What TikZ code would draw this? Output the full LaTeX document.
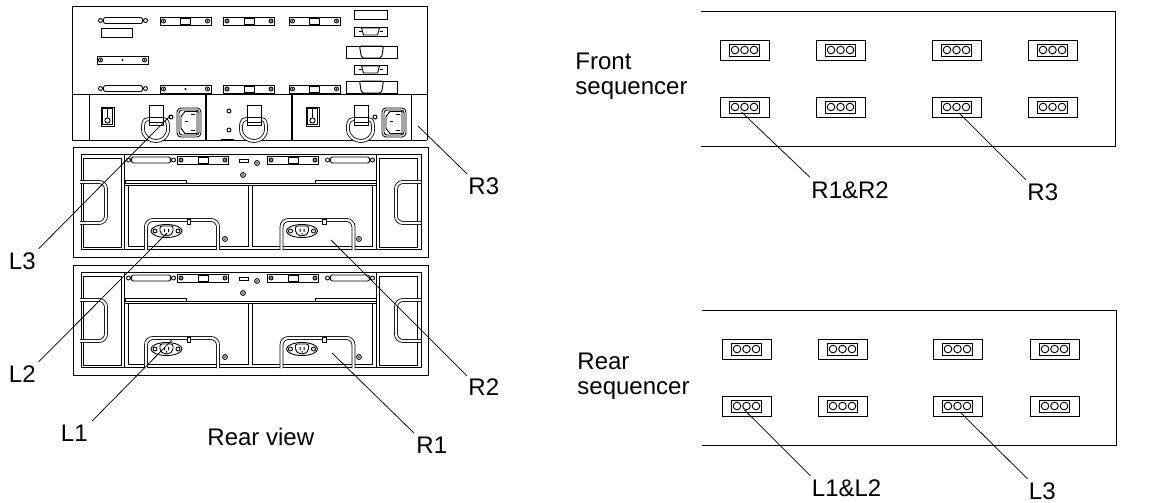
\documentclass[tikz,border=0pt]{standalone}
\usepackage{fontspec}
\setmainfont{Liberation Sans}
\usetikzlibrary{calc}

\begin{document}
\begin{tikzpicture}[x=1pt,y=-1pt,line width=0.9pt]
\tikzset{
	call out/.style = {font = \fontsize{24}{25}\selectfont, inner sep = 0, anchor = base west, align = left},
	outlet box/.style = {rectangle, draw, minimum width = 49, minimum height = 20, inner sep = 0},
	leader/.style = {line width = 0.75pt},
	tube/.style = {double, double distance = 2.2pt, line width = 0.8pt},
	screw/.pic = {\draw[fill = white] (0,0) circle[radius = 2.4]; \fill (0,0) circle[radius = 0.9];},
	ring/.pic = {\draw[fill = white] (0,0) circle[radius = 2];},
	plate/.pic = {
		\draw[fill = white] (-25.5,-4) rectangle (25.5,4);
		\pic at (-22,0) {ring}; \pic at (22,0) {ring};
		\fill (-22,0) circle[radius = 0.9]; \fill (22,0) circle[radius = 0.9];
	},
	window plate/.pic = {\pic {plate}; \draw[fill = white] (-5,-3) rectangle (5,3);},
	dot plate/.pic = {\pic {plate}; \fill (0,0) circle[radius = 1.2];},
	scsi port/.pic = {
		\draw[rounded corners = 2pt] (-19.5,-3) rectangle (19.5,3);
		\pic at (-22.5,0) {ring}; \pic at (22.5,0) {ring};
	},
	db port/.pic = {
		\draw (-16.5,-4.5) rectangle (16.5,4.5);
		\draw (-9,-3.5) -- (9,-3.5) -- (7,3.5) -- (-7,3.5) -- cycle;
		\draw (-12,0) -- (-9,0) (9,0) -- (12,0);
	},
	wide port/.pic = {
		\draw (-25.5,-6) rectangle (25.5,6);
		\draw[rounded corners = 2pt] (-12,-6) -- (12,-6) -- (10,6) -- (-10,6) -- cycle;
	},
	switch/.pic = {
		\draw (-6.5,-9.5) rectangle (6.5,9.5);
		\draw (-5,-8) rectangle (5,8);
		\draw (0,-8) -- (0,1);
		\draw (0,4) circle[radius = 2.6];
	},
	latch/.pic = {
		\draw[tube] (0,0) .. controls (-6,0) and (-6,5) .. (-6,10) .. controls (-6,18) and (1,22) .. (7,22) .. controls (13,22) and (19,18) .. (19,10) .. controls (19,5) and (19,0) .. (14,0);
		\draw[fill = white] (0,-14) rectangle (14,6);
		\draw (0,-2) -- (14,-2) (0,3) -- (14,3);
	},
	mains socket/.pic = {
		\draw[rounded corners = 4pt] (-12,-14.5) rectangle (12,14.5);
		\draw[rounded corners = 3pt] (-10,-12.5) rectangle (10,12.5);
		\draw (-4,-11) -- (8,-11) -- (8,11) -- (-4,11) -- (-8,6) -- (-8,-6) -- cycle;
		\draw[line width = 1.3pt] (2,-8) -- (6,-8) (2,8) -- (6,8) (-4,-1) -- (-1,-1);
	},
	inlet/.pic = {
		\draw (0,0) ellipse[x radius = 15.5, y radius = 6.5];
		\pic at (-11.5,0) {ring}; \pic at (11.5,0) {ring};
		\draw[fill = white, rounded corners = 2pt] (-6.5,-5) -- (6.5,-5) -- (6.5,2) -- (2,5) -- (-2,5) -- (-6.5,2) -- cycle;
		\fill (-2.5,-2) rectangle (-1.5,1) (1.5,-2) rectangle (2.5,1) (-0.5,2) rectangle (0.5,3.5);
	},
	outlet/.pic = {
		\draw (-15,-6) rectangle (15,6);
		\draw (-9.5,0) circle[radius = 3.8] (0,0) circle[radius = 3.8] (9.5,0) circle[radius = 3.8];
	},
}

\useasboundingbox (0,0) rectangle (1165,503);

\draw (72,140) -- (72,6) -- (427,6) -- (427,140);
\draw (72,94) -- (427,94);
\draw (72,140) -- (427,140);
\draw (89,94) -- (89,140) (411,94) -- (411,140);
\draw[line width = 1.5pt] (206,94) -- (206,140) (292,94) -- (292,140) (221,140) -- (234,140);
\foreach \y in {20.5,88.5} {\pic at (123,\y) {scsi port};}
\draw (101,28) rectangle (132,37);
\draw (354,10) rectangle (387,19);
\pic at (185.5,21) {window plate};
\pic at (249,21) {window plate};
\pic at (314.5,21) {window plate};
\pic at (122.5,60) {dot plate};
\pic at (185.5,89) {dot plate};
\pic at (249,89) {window plate};
\pic at (314.5,89) {window plate};
\foreach \y in {31.5,69.5} {\pic at (370.5,\y) {db port};}
\foreach \y in {52,87} {\pic at (371.5,\y) {wide port};}
\pic at (107.5,116.5) {switch};
\pic at (312.5,116.5) {switch};
\pic at (149,119) {latch};
\pic at (247,119) {latch};
\pic at (354,119) {latch};
\pic at (171,117) {ring};
\pic at (375,117) {ring};
\pic at (229,111) {ring};
\pic at (229,130) {ring};
\pic at (189,122.5) {mains socket};
\pic at (394,122.5) {mains socket};

\foreach \dy in {0,118} {
	\begin{scope}[shift = {(0,\dy)}]
	\draw (73,147) rectangle (428,257);
	\draw (81,154) rectangle (421,249);
	\draw (83,158) rectangle (121,247);
	\draw (379,158) rectangle (417,247);
	\draw (124,154) -- (124,249) (376,154) -- (376,249);
	\draw[line width = 0.7pt] (124,183) -- (376,183) (124,185.5) -- (376,185.5);
	\draw (125,180) rectangle (186,183);
	\draw (315,180) rectangle (376,183);
	\draw[line width = 0.7pt] (128,185.5) -- (128,246.5) -- (248,246.5) -- (248,185.5);
	\draw[line width = 0.7pt] (252,185.5) -- (252,246.5) -- (372,246.5) -- (372,185.5);
	\draw[tube, rounded corners = 7pt] (80,182) -- (106,182) -- (106,223) -- (80,223);
	\draw[tube, rounded corners = 7pt] (421,182) -- (396,182) -- (396,223) -- (421,223);
	\foreach \x in {0,135.5} {
		\draw[tube, rounded corners = 7pt] (146+\x,250) -- (146+\x,220) -- (218+\x,220) -- (218+\x,250);
		\draw[fill = white] (187+\x,219) rectangle (190.5+\x,224);
		\pic at (166.5+\x,231) {inlet};
	}
	\pic at (225,239) {screw};
	\pic at (359,239) {screw};
	\pic at (257,163) {screw};
	\pic at (243,175) {screw};
	\pic at (151,160) {scsi port};
	\pic at (350,160) {scsi port};
	\pic at (203,160) {window plate};
	\pic at (293,160) {window plate};
	\draw (239,159) rectangle (248,162);
	\end{scope}
}

\foreach \y/\r in {50/a,107/b} {
	\foreach \x/\c in {744.5/1,840.5/2,956.5/3,1052.5/4} {
		\node (front\r\c) [outlet box] at (\x,\y) {};
		\pic at (\x,\y) {outlet};
	}
}
\foreach \y/\r in {349/a,406/b} {
	\foreach \x/\c in {746.5/1,842.5/2,957.5/3,1054.5/4} {
		\node (rear\r\c) [outlet box] at (\x,\y) {};
		\pic at (\x,\y) {outlet};
	}
}
\draw (700.5,11) -- (1115,11) -- (1115,146) -- (700.5,146);
\draw (702,310) -- (1116,310) -- (1116,445) -- (702,445);

\node (front title) [call out] at (575,95) {Front\\sequencer};
\node (rear title) [call out] at (577,394) {Rear\\sequencer};
\node (rear view) [call out] at (207,445) {Rear view};
\node (l one) [call out] at (60.5,441) {L1};
\node (l two) [call out] at (8.5,382) {L2};
\node (l three) [call out] at (8.5,269) {L3};
\node (r one) [call out] at (416,453) {R1};
\node (r two) [call out] at (468,395) {R2};
\node (r three) [call out] at (468,194) {R3};
\node (seq r12) [call out] at (811,198) {R1\&R2};
\node (seq r3) [call out] at (1027,200) {R3};
\node (seq l12) [call out] at (811.5,496) {L1\&L2};
\node (seq l3) [call out] at (1028.5,499) {L3};

\coordinate (l one spot) at (172,340);
\coordinate (l two spot) at (167,233);
\coordinate (l three spot) at (171,115);
\coordinate (r one spot) at (332,353);
\coordinate (r two spot) at (331,240);
\coordinate (r three spot) at (418,126);

\draw[leader] (l one spot) -- ($(l one.north east)+(4,-3)$);
\draw[leader] (l two spot) -- ($(l two.north east)+(2.5,-3)$);
\draw[leader] (l three spot) -- ($(l three.north east)+(2.5,-3)$);
\draw[leader] (r one spot) -- ($(r one.north west)+(-2,-3)$);
\draw[leader] (r two spot) -- ($(r two.north west)+(-1,-2)$);
\draw[leader] (r three spot) -- ($(r three.north west)+(-1,-3)$);
\draw[leader] ($(frontb1)+(-3,5)$) -- ($(seq r12.north west)+(-1,-3.5)$);
\draw[leader] ($(frontb3)+(2.5,6)$) -- ($(seq r3.north west)+(-1,-3)$);
\draw[leader] ($(rearb1)+(-2,4)$) -- ($(seq l12.north west)+(-1,-3)$);
\draw[leader] ($(rearb3)+(2.5,6)$) -- ($(seq l3.north west)+(-1,-3)$);

\end{tikzpicture}
\end{document}
